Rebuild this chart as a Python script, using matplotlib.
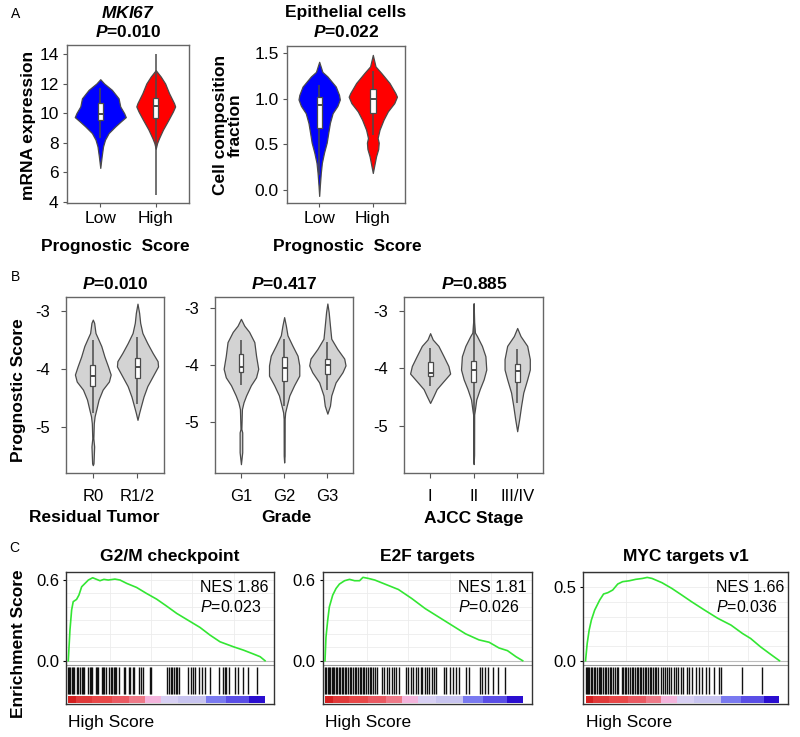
import numpy as np
import matplotlib
matplotlib.use("Agg")
import matplotlib.pyplot as plt
from matplotlib.patches import Rectangle

plt.rcParams['font.family'] = ['Liberation Sans', 'DejaVu Sans']
plt.rcParams['mathtext.fontset'] = 'custom'
plt.rcParams['mathtext.rm'] = 'Liberation Sans'
plt.rcParams['mathtext.it'] = 'Liberation Sans:italic'
plt.rcParams['mathtext.bf'] = 'Liberation Sans:italic:bold'

W, H = 800, 737

# ---------------- data: panel A ----------------
groups_a = ['Low', 'High']

# violin outlines: value and half width
mki67_low_y = [6.3, 7.08, 7.75, 8.2, 8.65, 9.1, 9.44, 9.73, 10.0, 10.45, 11.0, 11.57, 12.0, 12.29]
mki67_low_w = [0.0, 0.025, 0.05, 0.085, 0.15, 0.27, 0.37, 0.46, 0.43, 0.36, 0.33, 0.21, 0.07, 0.0]
mki67_high_y = [7.6, 7.98, 8.31, 8.88, 9.55, 10.11, 10.45, 10.67, 11.35, 12.0, 12.47, 12.9]
mki67_high_w = [0.0, 0.025, 0.06, 0.13, 0.23, 0.31, 0.35, 0.33, 0.24, 0.17, 0.09, 0.0]
# whisker low, q1, median, q3, whisker high
mki67_low_box = [8.3, 9.55, 9.96, 10.67, 11.7]
mki67_high_box = [4.5, 9.66, 10.5, 11.0, 14.0]

epi_low_y = [-0.06, 0.05, 0.19, 0.30, 0.41, 0.52, 0.63, 0.735, 0.84, 0.92, 0.99, 1.04, 1.13, 1.24, 1.29, 1.40]
epi_low_w = [0.0, 0.012, 0.03, 0.05, 0.09, 0.14, 0.17, 0.2, 0.25, 0.34, 0.385, 0.37, 0.31, 0.155, 0.06, 0.0]
epi_high_y = [0.19, 0.28, 0.37, 0.45, 0.52, 0.57, 0.66, 0.77, 0.86, 0.95, 1.02, 1.06, 1.17, 1.28, 1.35, 1.475]
epi_high_w = [0.0, 0.03, 0.06, 0.1, 0.11, 0.09, 0.125, 0.2, 0.28, 0.4, 0.45, 0.42, 0.31, 0.155, 0.05, 0.0]
epi_low_box = [0.17, 0.68, 0.93, 1.02, 1.15]
epi_high_box = [0.6, 0.84, 1.0, 1.1, 1.3]

# ---------------- data: panel B ----------------
resid_groups = ['R0', 'R1/2']
r0_y = [-5.66, -5.63, -5.34, -5.2, -4.94, -4.82, -4.71, -4.53, -4.36, -4.22, -4.1, -3.96, -3.79, -3.61, -3.47, -3.385, -3.21, -3.155]
r0_w = [0, 0.015, 0.03, 0.012, 0.022, 0.04, 0.075, 0.13, 0.22, 0.36, 0.40, 0.34, 0.26, 0.19, 0.11, 0.06, 0.03, 0]
r12_y = [-4.88, -4.76, -4.65, -4.48, -4.3, -4.13, -3.96, -3.87, -3.73, -3.56, -3.385, -3.21, -3.04, -2.88]
r12_w = [0, 0.037, 0.075, 0.135, 0.22, 0.34, 0.46, 0.45, 0.34, 0.22, 0.11, 0.06, 0.037, 0]
r0_box = [-4.76, -4.3, -4.12, -3.93, -3.5]
r12_box = [-4.6, -4.16, -3.97, -3.82, -3.45]

grade_groups = ['G1', 'G2', 'G3']
g1_y = [-5.75, -5.54, -5.19, -5.13, -4.78, -4.66, -4.54, -4.36, -4.22, -4.07, -3.84, -3.6, -3.42, -3.31, -3.19]
g1_w = [0, 0.03, 0.03, 0.01, 0.023, 0.06, 0.12, 0.23, 0.35, 0.40, 0.35, 0.31, 0.19, 0.077, 0]
g2_y = [-5.72, -5.6, -4.95, -4.84, -4.72, -4.54, -4.36, -4.19, -4.01, -3.84, -3.66, -3.48, -3.31, -3.16]
g2_w = [0, 0.01, 0.012, 0.023, 0.06, 0.12, 0.23, 0.35, 0.35, 0.31, 0.19, 0.077, 0.04, 0]
g3_y = [-4.86, -4.72, -4.54, -4.31, -4.13, -4.01, -3.89, -3.72, -3.54, -3.31, -3.07, -2.92]
g3_w = [0, 0.06, 0.09, 0.19, 0.35, 0.42, 0.39, 0.23, 0.09, 0.06, 0.03, 0]
g1_box = [-4.36, -4.13, -4.03, -3.81, -3.57]
g2_box = [-4.72, -4.28, -4.05, -3.86, -3.54]
g3_box = [-4.45, -4.16, -4.01, -3.89, -3.6]

stage_groups = ['I', 'II', 'III/IV']
s1_y = [-4.6, -4.48, -4.36, -4.22, -4.09, -3.96, -3.79, -3.61, -3.5, -3.39]
s1_w = [0, 0.077, 0.15, 0.31, 0.46, 0.42, 0.31, 0.19, 0.06, 0]
s2_y = [-5.66, -5.5, -4.8, -4.71, -4.54, -4.36, -4.19, -4.02, -3.79, -3.61, -3.44, -3.38, -3.2, -2.87]
s2_w = [0, 0.01, 0.012, 0.03, 0.06, 0.14, 0.23, 0.29, 0.27, 0.19, 0.077, 0.03, 0.012, 0]
s3_y = [-5.09, -4.88, -4.65, -4.42, -4.19, -4.02, -3.84, -3.61, -3.44, -3.3]
s3_w = [0, 0.046, 0.09, 0.14, 0.23, 0.29, 0.29, 0.23, 0.077, 0]
s1_box = [-4.3, -4.14, -4.08, -3.89, -3.65]
s2_box = [-5.64, -4.24, -4.03, -3.87, -2.9]
s3_box = [-4.6, -4.24, -4.05, -3.93, -3.67]

# ---------------- data: panel C (GSEA) ----------------
# x = position in the ranked list (0..1), y = running enrichment score
g2m_x = [0, 0.0085, 0.017, 0.025, 0.042, 0.054, 0.068, 0.085, 0.102, 0.124, 0.144, 0.161, 0.181, 0.203, 0.237, 0.263,
         0.297, 0.347, 0.398, 0.449, 0.5, 0.551, 0.602, 0.669, 0.72, 0.771, 0.839, 0.89, 0.941, 0.975, 1.0]
g2m_es = [0, 0.228, 0.377, 0.439, 0.456, 0.488, 0.55, 0.575, 0.60, 0.617, 0.605, 0.595, 0.605, 0.60, 0.607, 0.60,
          0.575, 0.545, 0.50, 0.458, 0.406, 0.352, 0.307, 0.248, 0.191, 0.141, 0.104, 0.079, 0.05, 0.03, 0]
g2m_hits = [0.000, 0.005, 0.010, 0.017, 0.024, 0.031, 0.044, 0.051, 0.058, 0.068, 0.075, 0.082, 0.102, 0.109, 0.116,
            0.123, 0.140, 0.147, 0.153, 0.170, 0.177, 0.184, 0.191, 0.208, 0.215, 0.221, 0.230, 0.239, 0.245, 0.259,
            0.283, 0.290, 0.307, 0.313, 0.327, 0.334, 0.361, 0.368, 0.378, 0.416, 0.419, 0.504, 0.511, 0.521, 0.528,
            0.535, 0.549, 0.555, 0.562, 0.610, 0.624, 0.634, 0.644, 0.664, 0.678, 0.695, 0.719, 0.767, 0.784, 0.794,
            0.804, 0.818, 0.845, 0.862, 0.886, 0.913, 0.961]

e2f_x = [0, 0.005, 0.0136, 0.022, 0.039, 0.056, 0.073, 0.099, 0.124, 0.15, 0.175, 0.192, 0.218, 0.252, 0.303, 0.371,
         0.439, 0.507, 0.575, 0.643, 0.711, 0.779, 0.83, 0.88, 0.923, 0.966, 1.0]
e2f_es = [0, 0.175, 0.3, 0.4, 0.4875, 0.5375, 0.57, 0.595, 0.605, 0.595, 0.595, 0.62, 0.6125, 0.6, 0.57, 0.53,
          0.4625, 0.3875, 0.325, 0.2625, 0.2, 0.155, 0.1375, 0.095, 0.075, 0.03, 0]
e2f_hits = [0.000, 0.007, 0.014, 0.020, 0.027, 0.034, 0.041, 0.048, 0.055, 0.061, 0.070, 0.077, 0.084, 0.090, 0.101,
            0.108, 0.116, 0.125, 0.131, 0.143, 0.150, 0.159, 0.166, 0.177, 0.184, 0.191, 0.198, 0.205, 0.220, 0.227,
            0.235, 0.242, 0.254, 0.263, 0.288, 0.297, 0.314, 0.324, 0.340, 0.348, 0.357, 0.375, 0.410, 0.420, 0.433,
            0.444, 0.459, 0.469, 0.485, 0.493, 0.507, 0.515, 0.524, 0.543, 0.551, 0.563, 0.602, 0.614, 0.631, 0.645,
            0.662, 0.679, 0.713, 0.727, 0.782, 0.795, 0.807, 0.824, 0.850, 0.875, 0.909]

myc_x = [0, 0.0085, 0.0186, 0.030, 0.047, 0.073, 0.093, 0.115, 0.14, 0.166, 0.191, 0.225, 0.259, 0.293, 0.318, 0.343,
         0.394, 0.445, 0.496, 0.547, 0.614, 0.682, 0.75, 0.809, 0.851, 0.902, 0.953, 1.0]
myc_es = [0, 0.118, 0.209, 0.277, 0.345, 0.414, 0.455, 0.464, 0.482, 0.523, 0.539, 0.545, 0.555, 0.561, 0.568, 0.561,
          0.532, 0.493, 0.448, 0.402, 0.345, 0.289, 0.243, 0.186, 0.152, 0.095, 0.045, 0]
myc_hits = [0.000, 0.007, 0.014, 0.020, 0.027, 0.034, 0.041, 0.048, 0.058, 0.067, 0.075, 0.082, 0.092, 0.101, 0.108,
            0.118, 0.126, 0.133, 0.143, 0.152, 0.160, 0.167, 0.186, 0.195, 0.203, 0.210, 0.220, 0.229, 0.237, 0.244,
            0.254, 0.263, 0.270, 0.280, 0.288, 0.295, 0.305, 0.314, 0.321, 0.331, 0.340, 0.346, 0.357, 0.365, 0.372,
            0.391, 0.399, 0.408, 0.420, 0.430, 0.442, 0.454, 0.468, 0.478, 0.493, 0.505, 0.522, 0.534, 0.551, 0.568,
            0.585, 0.602, 0.619, 0.637, 0.662, 0.688, 0.696, 0.807, 0.910]

gsea_titles = ['G2/M checkpoint', 'E2F targets', 'MYC targets v1']
gsea_nes = ['1.86', '1.81', '1.66']
gsea_p = ['0.023', '0.026', '0.036']

# ranked-list colour strip (red = high score, blue = low score)
cbar_edges = [0, 0.04, 0.12, 0.22, 0.31, 0.39, 0.47, 0.56, 0.7, 0.8, 0.92, 1.0]
cbar_colors = ['#d42020', '#e03a3a', '#e84848', '#ea5a62', '#ee7a88', '#f4b4dc',
               '#d8d0f4', '#c8c4f0', '#7a7af0', '#5a4ee6', '#2a0ed0']

fig = plt.figure(figsize=(W / 100, H / 100), dpi=100)


def add_ax(x0, y0, x1, y1):
    return fig.add_axes([x0 / W, 1 - y1 / H, (x1 - x0) / W, (y1 - y0) / H])


def ftext(x, y, s, **kw):
    fig.text(x / W, 1 - y / H, s, **kw)


def violins(ax, profiles, boxes, colors, edge, bw):
    for i, ((ys, ws), box, c) in enumerate(zip(profiles, boxes, colors)):
        pos = i + 1
        ys = np.asarray(ys)
        ws = np.asarray(ws)
        ax.fill_betweenx(ys, pos - ws, pos + ws, facecolor=c, edgecolor=edge, lw=0.9, zorder=2)
        lo, q1, med, q3, hi = box
        ax.vlines(pos, lo, hi, color=edge, lw=1.1, zorder=3)
        ax.add_patch(Rectangle((pos - bw, q1), 2 * bw, q3 - q1, facecolor='white',
                               edgecolor=edge, lw=0.9, zorder=4))
        ax.hlines(med, pos - bw, pos + bw, color=edge, lw=1.4, zorder=5)


def frame(ax, color, lw=1.0):
    for sp in ax.spines.values():
        sp.set_color(color)
        sp.set_linewidth(lw)


# ---------------- panel A ----------------
ftext(11, 14, 'A', fontsize=10, va='center', ha='left')

ax = add_ax(67, 45, 189, 203)
violins(ax, [(mki67_low_y, mki67_low_w), (mki67_high_y, mki67_high_w)],
        [mki67_low_box, mki67_high_box], ['#0000ff', '#ff0000'], '#4a4a4a', 0.05)
ax.set_xlim(0.4, 2.6)
ax.set_ylim(3.93, 14.6)
ax.set_yticks([4, 6, 8, 10, 12, 14])
ax.set_xticks([1, 2])
ax.set_xticklabels(groups_a)
ax.tick_params(length=3, width=0.8, color='#555', labelsize=12.5, pad=3)
frame(ax, '#666')
ftext(128, 13, r'$\mathbf{MKI67}$', ha='center', va='center', fontsize=12.5)
ftext(128, 32, r'$\mathbf{P}$=0.010', ha='center', va='center', fontsize=12.5, fontweight='bold')
ftext(28, 125, 'mRNA expression', ha='center', va='center', rotation=90, fontsize=12.5, fontweight='bold')
ftext(115, 247, 'Prognostic  Score', ha='center', va='center', fontsize=12.5, fontweight='bold')

ax = add_ax(287, 46, 405, 203)
violins(ax, [(epi_low_y, epi_low_w), (epi_high_y, epi_high_w)],
        [epi_low_box, epi_high_box], ['#0000ff', '#ff0000'], '#4a4a4a', 0.05)
ax.set_xlim(0.4, 2.6)
ax.set_ylim(-0.137, 1.572)
ax.set_yticks([0.0, 0.5, 1.0, 1.5])
ax.set_yticklabels(['0.0', '0.5', '1.0', '1.5'])
ax.set_xticks([1, 2])
ax.set_xticklabels(groups_a)
ax.tick_params(length=3, width=0.8, color='#555', labelsize=12.5, pad=3)
frame(ax, '#666')
ftext(346, 13, 'Epithelial cells', ha='center', va='center', fontsize=12.5, fontweight='bold')
ftext(346, 32, r'$\mathbf{P}$=0.022', ha='center', va='center', fontsize=12.5, fontweight='bold')
ftext(228, 125, 'Cell composition\nfraction', ha='center', va='center', rotation=90,
      fontsize=12.5, fontweight='bold', multialignment='center', linespacing=1.0)
ftext(347, 247, 'Prognostic  Score', ha='center', va='center', fontsize=12.5, fontweight='bold')

# ---------------- panel B ----------------
ftext(11, 277, 'B', fontsize=10, va='center', ha='left')

b_panels = [
    ((66, 296.7, 164.3, 472.7), (-5.79, -2.76), resid_groups,
     [(r0_y, r0_w), (r12_y, r12_w)], [r0_box, r12_box], '0.010', 'Residual Tumor', 94, 115),
    ((215, 296.7, 353.3, 472.7), (-5.9, -2.8), grade_groups,
     [(g1_y, g1_w), (g2_y, g2_w), (g3_y, g3_w)], [g1_box, g2_box, g3_box], '0.417', 'Grade', 286, 284),
    ((404, 296.7, 543.3, 473.3), (-5.82, -2.757), stage_groups,
     [(s1_y, s1_w), (s2_y, s2_w), (s3_y, s3_w)], [s1_box, s2_box, s3_box], '0.885', 'AJCC Stage', 474, 474),
]
for rect, ylim, cats, profs, boxes, pval, xlab, xlab_x, title_x in b_panels:
    ax = add_ax(*rect)
    violins(ax, profs, boxes, ['#d3d3d3'] * len(cats), '#4a4a4a', 0.055)
    ax.set_xlim(0.4, len(cats) + 0.6)
    ax.set_ylim(*ylim)
    ax.set_yticks([-5, -4, -3])
    ax.set_yticklabels(['-5', '-4', '-3'])
    ax.set_xticks(range(1, len(cats) + 1))
    ax.set_xticklabels(cats)
    ax.tick_params(length=3.6, width=0.8, color='#555', labelsize=12, pad=8)
    frame(ax, '#666')
    ftext(title_x, 284, r'$\mathbf{P}$=' + pval, ha='center', va='center', fontsize=12.5, fontweight='bold')
    ftext(xlab_x, 518, xlab, ha='center', va='center', fontsize=12.5, fontweight='bold')
ftext(19, 390, 'Prognostic Score', ha='center', va='center', rotation=90, fontsize=12.5, fontweight='bold')

# ---------------- panel C ----------------
ftext(9, 548, 'C', fontsize=10, va='center', ha='left')

ZERO_FRAC = 0.327
c_panels = [
    ((66, 571.7, 274, 704), g2m_x, g2m_es, g2m_hits, 0.662, [0.0, 0.6]),
    ((322.7, 571.7, 531.7, 704), e2f_x, e2f_es, e2f_hits, 0.662, [0.0, 0.6]),
    ((583.3, 571.7, 788.3, 704), myc_x, myc_es, myc_hits, 0.607, [0.0, 0.5]),
]
for k, (rect, xs, es, hits, es_top, yt) in enumerate(c_panels):
    ax = add_ax(*rect)
    ymin = -es_top * ZERO_FRAC / (1 - ZERO_FRAC)
    ax.set_xlim(-0.0116, 1.0455)
    ax.set_ylim(ymin, es_top)
    for g in np.arange(0.1, es_top, 0.1):
        ax.hlines(g, -0.0116, 1.0455, color='#ececec', lw=0.6, zorder=0)
    ax.vlines([0.21, 0.42, 0.63, 0.84], 0, es_top, color='#ececec', lw=0.6, zorder=0)
    ax.axhline(0, color='#bdbdbd', lw=0.8, zorder=1)
    ax.plot([0, 1], [0.295, 0.295], transform=ax.transAxes, color='#9a9a9a', lw=0.8)
    xt = ax.get_xaxis_transform()
    ax.vlines(hits, 0.079, 0.283, transform=xt, color='#111111', lw=1.0)
    for a, b, c in zip(cbar_edges[:-1], cbar_edges[1:], cbar_colors):
        ax.add_patch(Rectangle((a, 0.008), b - a, 0.056, transform=xt, facecolor=c, edgecolor='none'))
    ax.plot(xs, es, color='#33e633', lw=1.2, zorder=3)
    ax.set_yticks(yt)
    ax.set_yticklabels(['%.1f' % v for v in yt])
    ax.set_xticks([])
    ax.tick_params(length=2, width=0.8, labelsize=12, pad=3)
    frame(ax, '#333')
    ax.text(0.645, 0.884, 'NES ' + gsea_nes[k], transform=ax.transAxes, fontsize=11.5, ha='left', va='center')
    ax.text(0.645, 0.733, r'$P$=' + gsea_p[k], transform=ax.transAxes, fontsize=11.5, ha='left', va='center')
    cx = (rect[0] + rect[2]) / 2
    ftext(cx, 556, gsea_titles[k], ha='center', va='center', fontsize=12.5, fontweight='bold')
    ftext(rect[0] + 2.5, 723, 'High Score', ha='left', va='center', fontsize=12.5)
ftext(19, 644, 'Enrichment Score', ha='center', va='center', rotation=90, fontsize=12.5, fontweight='bold')

fig.savefig('out.png', dpi=100)
